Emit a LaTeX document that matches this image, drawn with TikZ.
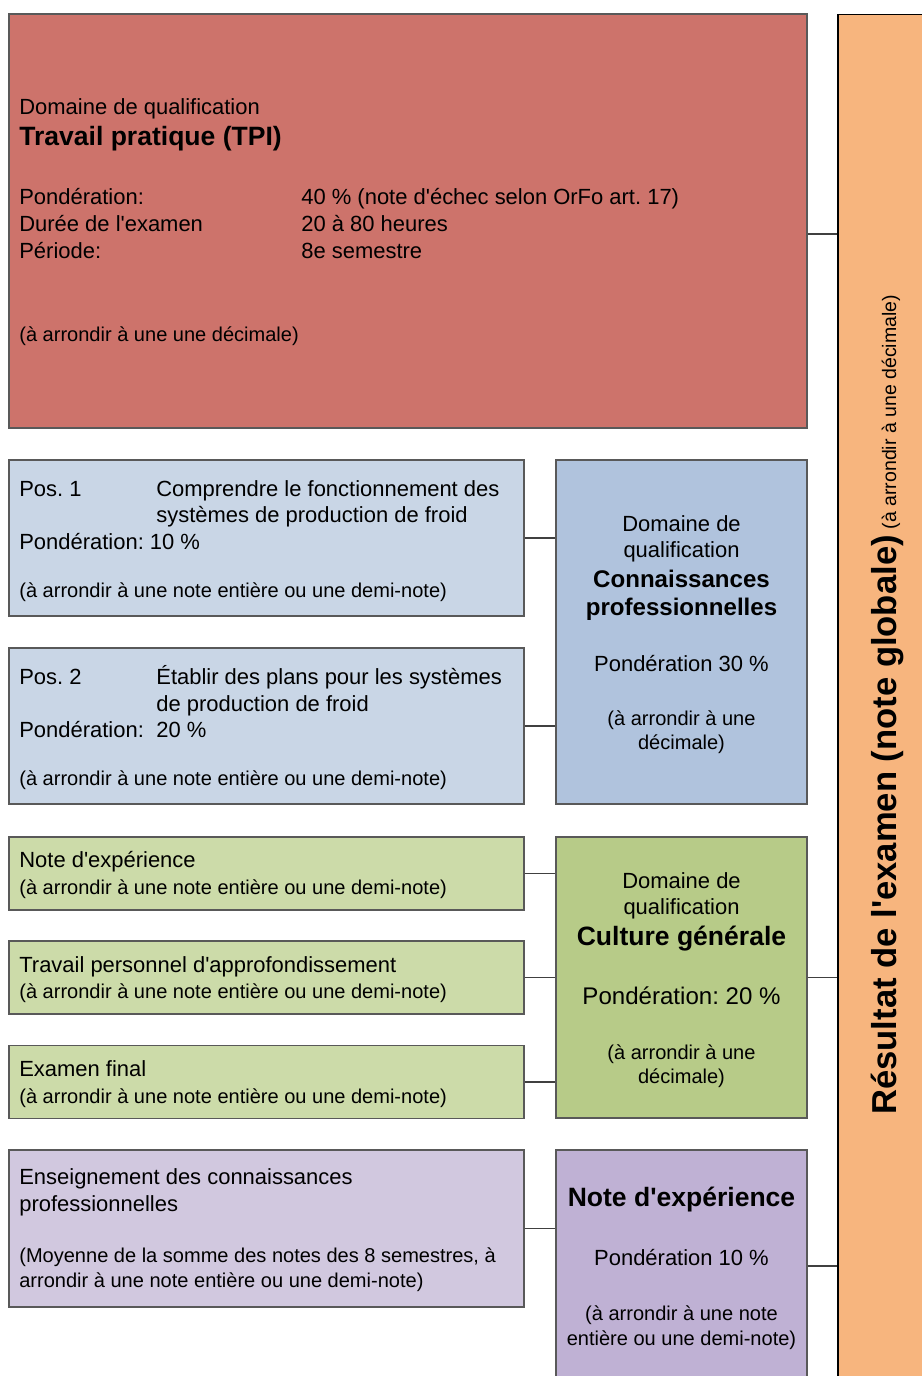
\documentclass[tikz,border=0pt]{standalone}
\usepackage{fontspec}
\setmainfont{Liberation Sans}[Ligatures=TeXOff]
\usepackage{tikz}
\definecolor{tpired}{RGB}{205,115,107}
\definecolor{posblue}{RGB}{201,214,230}
\definecolor{domblue}{RGB}{176,195,221}
\definecolor{ltgreen}{RGB}{204,219,169}
\definecolor{domgreen}{RGB}{183,203,136}
\definecolor{ltpurple}{RGB}{209,200,223}
\definecolor{dompurple}{RGB}{191,177,212}
\definecolor{resorange}{RGB}{247,181,126}
\frenchspacing

\tikzset{
  box/.style={draw=black!65, line width=0.7pt, inner sep=0pt},
  link/.style={draw=black!75, line width=0.7pt},
  lt/.style={inner sep=0pt, anchor=base west, font=\fontsize{12.5}{15}\selectfont},
  ln/.style={inner sep=0pt, anchor=base west, font=\fontsize{11.4}{14}\selectfont},
  lh/.style={inner sep=0pt, anchor=base west, font=\bfseries\fontsize{15.1}{18}\selectfont},
  ct/.style={inner sep=0pt, anchor=base, font=\fontsize{12.5}{15}\selectfont},
  cn/.style={inner sep=0pt, anchor=base, font=\fontsize{11.4}{14}\selectfont},
  cmid/.style={inner sep=0pt, anchor=base, font=\fontsize{13.7}{16}\selectfont},
  cb/.style={inner sep=0pt, anchor=base, font=\bfseries\fontsize{13.7}{16}\selectfont},
  ch/.style={inner sep=0pt, anchor=base, font=\bfseries\fontsize{15.1}{18}\selectfont}
}

\begin{document}
\frenchspacing
\begin{tikzpicture}[x=0.02cm, y=-0.02cm]
\clip (0,0) rectangle (922,1376);

% Boxes
\node[box, draw=black, fill=resorange, minimum width=1.94cm, minimum height=27.72cm] (res) at (886.5,707) {};
\node[box, fill=tpired, minimum width=15.96cm, minimum height=8.28cm] (tpi) at (408,221) {};
\node[box, fill=posblue, minimum width=10.3cm, minimum height=3.12cm] (pos1) at (266.5,538) {};
\node[box, fill=posblue, minimum width=10.3cm, minimum height=3.12cm] (pos2) at (266.5,726) {};
\node[box, fill=domblue, minimum width=5.02cm, minimum height=6.88cm] (cp) at (681.5,632) {};
\node[box, fill=ltgreen, minimum width=10.3cm, minimum height=1.46cm] (nexp) at (266.5,873.5) {};
\node[box, fill=ltgreen, minimum width=10.3cm, minimum height=1.46cm] (tpa) at (266.5,977.5) {};
\node[box, fill=ltgreen, minimum width=10.3cm, minimum height=1.46cm] (exf) at (266.5,1082) {};
\node[box, fill=domgreen, minimum width=5.02cm, minimum height=5.62cm] (cg) at (681.5,977.5) {};
\node[box, fill=ltpurple, minimum width=10.3cm, minimum height=3.14cm] (ecp) at (266.5,1228.5) {};
\node[box, fill=dompurple, minimum width=5.02cm, minimum height=5cm] (dn) at (681.5,1275) {};

% Connectors
\coordinate (tpiout) at ([shift={(0,13)}]tpi.east);
\coordinate (dnout) at ([shift={(0,-9)}]dn.east);
\draw[link] (tpiout) -- (tpiout -| res.west);
\draw[link] (pos1.east) -- (pos1.east -| cp.west);
\draw[link] (pos2.east) -- (pos2.east -| cp.west);
\draw[link] (nexp.east) -- (nexp.east -| cg.west);
\draw[link] (tpa.east) -- (tpa.east -| cg.west);
\draw[link] (exf.east) -- (exf.east -| cg.west);
\draw[link] (cg.east) -- (cg.east -| res.west);
\draw[link] (ecp.east) -- (ecp.east -| dn.west);
\draw[link] (dnout) -- (dnout -| res.west);

% Travail pratique
\node[lt] (tpiDom) at (19,114) {Domaine de qualification};
\node[lh] (tpiTit) at (19,145) {Travail pratique (TPI)};
\node[lt] (tpiPond) at (19,204) {Pondération:};
\node[lt] (tpiDur) at (19,231) {Durée de l'examen};
\node[lt] (tpiPer) at (19,258) {Période:};
\node[lt] (tpiPondV) at (301,204) {40 \% (note d'échec selon OrFo art. 17)};
\node[lt] (tpiDurV) at (301,231) {20 à 80 heures};
\node[lt] (tpiPerV) at (301,258) {8e semestre};
\node[ln] (tpiNote) at (19,341) {(à arrondir à une une décimale)};

% Pos. 1 and Pos. 2
\node[lt] (p1A) at (19,496) {Pos. 1};
\node[lt] (p1B) at (156,496) {Comprendre le fonctionnement des};
\node[lt] (p1C) at (156,522) {systèmes de production de froid};
\node[lt] (p1D) at (19,549) {Pondération: 10 \%};
\node[ln] (p1E) at (19,597) {(à arrondir à une note entière ou une demi-note)};
\node[lt] (p2A) at (19,684) {Pos. 2};
\node[lt] (p2B) at (156,684) {Établir des plans pour les systèmes};
\node[lt] (p2C) at (156,711) {de production de froid};
\node[lt] (p2D) at (19,737) {Pondération:};
\node[lt] (p2E) at (156,737) {20 \%};
\node[ln] (p2F) at (19,785) {(à arrondir à une note entière ou une demi-note)};

% Connaissances professionnelles
\node[ct] (cpA) at (681.5,531) {Domaine de};
\node[ct] (cpB) at (681.5,557) {qualification};
\node[cb] (cpC) at (681.5,587) {Connaissances};
\node[cb] (cpD) at (681.5,615) {professionnelles};
\node[ct] (cpE) at (681.5,671) {Pondération 30 \%};
\node[cn] (cpF) at (681.5,725) {(à arrondir à une};
\node[cn] (cpG) at (681.5,749) {décimale)};

% Culture generale
\node[lt] (nexpA) at (19,867) {Note d'expérience};
\node[ln] (nexpB) at (19,894) {(à arrondir à une note entière ou une demi-note)};
\node[lt] (tpaA) at (19,972) {Travail personnel d'approfondissement};
\node[ln] (tpaB) at (19,998) {(à arrondir à une note entière ou une demi-note)};
\node[lt] (exfA) at (19,1076) {Examen final};
\node[ln] (exfB) at (19,1103) {(à arrondir à une note entière ou une demi-note)};
\node[ct] (cgA) at (681.5,888) {Domaine de};
\node[ct] (cgB) at (681.5,914) {qualification};
\node[ch] (cgC) at (681.5,945) {Culture générale};
\node[cmid] (cgD) at (681.5,1004) {Pondération: 20 \%};
\node[cn] (cgE) at (681.5,1059) {(à arrondir à une};
\node[cn] (cgF) at (681.5,1083) {décimale)};

% Note d'experience
\node[lt] (ecpA) at (19,1184) {Enseignement des connaissances};
\node[lt] (ecpB) at (19,1211) {professionnelles};
\node[ln] (ecpC) at (19,1262) {(Moyenne de la somme des notes des 8 semestres, à};
\node[ln] (ecpD) at (19,1287) {arrondir à une note entière ou une demi-note)};
\node[ch] (dnA) at (681.5,1206) {Note d'expérience};
\node[ct] (dnB) at (681.5,1265) {Pondération 10 \%};
\node[cn] (dnC) at (681.5,1320) {(à arrondir à une note};
\node[cn] (dnD) at (681.5,1345) {entière ou une demi-note)};

% Resultat
\node[rotate=90, anchor=base west, inner sep=0pt] (resT) at (896,1115)
  {{\bfseries\fontsize{19.7}{22}\selectfont Résultat de l'examen (note globale)}\hspace{0.12cm}{\fontsize{11.1}{13}\selectfont(à arrondir à une décimale)}};
\end{tikzpicture}
\end{document}
